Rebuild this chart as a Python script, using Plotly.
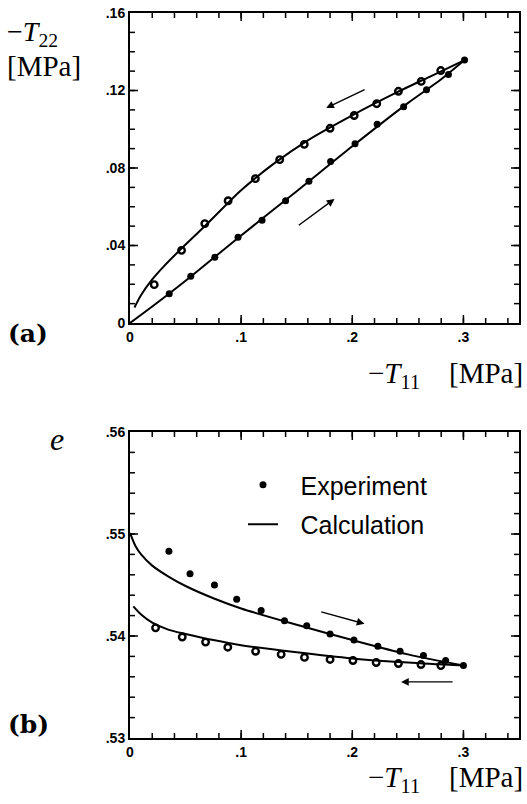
import plotly.graph_objects as go

# ---------- data: panel (a)  -T22 vs -T11 ----------
a_load_x = [0.0353, 0.0547, 0.0763, 0.0972, 0.1188, 0.140, 0.161, 0.1805, 0.2025, 0.2224, 0.2462, 0.2668, 0.2865, 0.301]
a_load_y = [0.0151, 0.0241, 0.0339, 0.0442, 0.0530, 0.0631, 0.0731, 0.0834, 0.0925, 0.1026, 0.1116, 0.1204, 0.1283, 0.1357]
a_unload_x = [0.2796, 0.262, 0.2415, 0.222, 0.2017, 0.180, 0.1568, 0.1347, 0.1128, 0.0883, 0.0673, 0.0464, 0.0218]
a_unload_y = [0.1303, 0.1247, 0.1196, 0.1132, 0.1071, 0.1005, 0.0922, 0.0843, 0.0745, 0.0631, 0.0513, 0.0375, 0.0198]
a_calc_load_x = [0, 0.02, 0.05, 0.1, 0.15, 0.2, 0.25, 0.28, 0.301]
a_calc_load_y = [0, 0.0085, 0.0218, 0.0452, 0.0680, 0.0912, 0.1135, 0.1258, 0.1357]
a_calc_unload_x = [0.004, 0.01, 0.02, 0.03, 0.05, 0.07, 0.1, 0.13, 0.16, 0.2, 0.24, 0.27, 0.301]
a_calc_unload_y = [0.008, 0.0145, 0.0225, 0.029, 0.0405, 0.0515, 0.0685, 0.0825, 0.0943, 0.1072, 0.1190, 0.1272, 0.1357]

# ---------- data: panel (b)  e vs -T11 ----------
b_load_x = [0.035, 0.054, 0.076, 0.096, 0.118, 0.139, 0.159, 0.180, 0.2015, 0.223, 0.243, 0.264, 0.284, 0.300]
b_load_y = [0.5483, 0.5461, 0.5450, 0.5436, 0.5425, 0.5415, 0.5410, 0.5402, 0.5396, 0.5390, 0.5385, 0.5381, 0.5376, 0.5371]
b_unload_x = [0.023, 0.047, 0.068, 0.088, 0.113, 0.136, 0.157, 0.180, 0.2006, 0.2215, 0.2415, 0.2618, 0.2797]
b_unload_y = [0.5408, 0.5399, 0.5394, 0.5389, 0.5385, 0.5382, 0.5379, 0.5377, 0.5376, 0.5374, 0.5373, 0.5372, 0.5371]
b_calc_load_x = [0, 0.005, 0.01, 0.02, 0.035, 0.05, 0.075, 0.1, 0.15, 0.2, 0.25, 0.3]
b_calc_load_y = [0.5501, 0.5488, 0.5480, 0.5469, 0.5458, 0.5449, 0.5437, 0.5427, 0.5411, 0.5396, 0.5382, 0.5371]
b_calc_unload_x = [0.003, 0.01, 0.02, 0.035, 0.05, 0.075, 0.1, 0.15, 0.2, 0.25, 0.3]
b_calc_unload_y = [0.5429, 0.5421, 0.5413, 0.5406, 0.5402, 0.5396, 0.5391, 0.5384, 0.5378, 0.5374, 0.5371]

# arrows: (tail_x, tail_y, head_x, head_y)
a_arrows = [(0.2124, 0.1208, 0.1765, 0.1110), (0.1505, 0.0499, 0.184, 0.064)]
b_arrows = [(0.1707, 0.5424, 0.211, 0.5412), (0.2916, 0.5355, 0.2439, 0.5355)]

x_ticks = [0, 0.1, 0.2, 0.3]
x_ticktext = ["0", ".1", ".2", ".3"]
a_yticks = [0, 0.04, 0.08, 0.12, 0.16]
a_yticktext = ["0", ".04", ".08", ".12", ".16"]
b_yticks = [0.53, 0.54, 0.55, 0.56]
b_yticktext = [".53", ".54", ".55", ".56"]

# minor tick positions
x_minor = [round(0.02 * i, 4) for i in range(1, 18)]
a_yminor = [round(0.01 * i, 4) for i in range(1, 16)]
b_yminor = [round(0.53 + 0.002 * i, 4) for i in range(1, 15)]

X_RANGE = [0, 0.35]
A_YRANGE = [0, 0.16]
B_YRANGE = [0.53, 0.56]

# ---------- layout geometry (pixels) ----------
W, H = 527, 804
ML, MR, MT, MB = 130, 8, 13, 66
PW, PH = W - ML - MR, H - MT - MB
TOP_BOTTOM_PX = 323
BOT_TOP_PX = 432
TOP_PANEL_PX = TOP_BOTTOM_PX - MT
BOT_PANEL_PX = H - MB - BOT_TOP_PX


def px(x):
    return (x - ML) / PW


def py(y):
    return (H - MB - y) / PH


fig = go.Figure()

mk_fill = dict(color="black", size=7)
mk_open = dict(color="black", size=6.5, symbol="circle-open", line=dict(width=2.4, color="black"))
ln = dict(color="black", width=2, shape="spline", smoothing=0.8)


def tick_trace(xref, yref, xrange, yrange, ypanel_px):
    """Inward tick marks on all four frame edges, built on the axes' own scales."""
    xs, ys = [], []
    dx = (xrange[1] - xrange[0]) / PW          # data units per pixel along x
    dy = (yrange[1] - yrange[0]) / ypanel_px   # data units per pixel along y
    for vals, L in ((x_minor, 5), (x_ticks[1:], 8)):
        for v in vals:
            xs += [v, v, None, v, v, None]
            ys += [yrange[0], yrange[0] + L * dy, None, yrange[1], yrange[1] - L * dy, None]
    yvals = (a_yminor, a_yticks[1:-1]) if yref == "y" else (b_yminor, b_yticks[1:-1])
    for vals, L in ((yvals[0], 5), (yvals[1], 8)):
        for v in vals:
            xs += [xrange[0], xrange[0] + L * dx, None, xrange[1], xrange[1] - L * dx, None]
            ys += [v, v, None, v, v, None]
    return go.Scatter(x=xs, y=ys, mode="lines", line=dict(color="black", width=1.5),
                      xaxis=xref, yaxis=yref, showlegend=False, hoverinfo="skip",
                      connectgaps=False)


# panel a
fig.add_trace(tick_trace("x", "y", X_RANGE, A_YRANGE, TOP_PANEL_PX))
fig.add_trace(go.Scatter(x=a_calc_load_x, y=a_calc_load_y, mode="lines", line=ln,
                         xaxis="x", yaxis="y", showlegend=False))
fig.add_trace(go.Scatter(x=a_calc_unload_x, y=a_calc_unload_y, mode="lines", line=ln,
                         xaxis="x", yaxis="y", showlegend=False))
fig.add_trace(go.Scatter(x=a_load_x, y=a_load_y, mode="markers", marker=mk_fill,
                         xaxis="x", yaxis="y", showlegend=False))
fig.add_trace(go.Scatter(x=a_unload_x, y=a_unload_y, mode="markers", marker=mk_open,
                         xaxis="x", yaxis="y", showlegend=False))

# panel b
fig.add_trace(tick_trace("x2", "y2", X_RANGE, B_YRANGE, BOT_PANEL_PX))
fig.add_trace(go.Scatter(x=b_load_x, y=b_load_y, mode="markers", marker=mk_fill,
                         xaxis="x2", yaxis="y2", name="\u2002\u2009Experiment", legendgroup="g1"))
fig.add_trace(go.Scatter(x=b_calc_load_x, y=b_calc_load_y, mode="lines", line=ln,
                         xaxis="x2", yaxis="y2", name="\u2002\u2009Calculation", legendgroup="g2"))
fig.add_trace(go.Scatter(x=b_calc_unload_x, y=b_calc_unload_y, mode="lines", line=ln,
                         xaxis="x2", yaxis="y2", showlegend=False))
fig.add_trace(go.Scatter(x=b_unload_x, y=b_unload_y, mode="markers", marker=mk_open,
                         xaxis="x2", yaxis="y2", showlegend=False))

tickfont = dict(family="Liberation Sans, Arial", size=14, color="black", weight="bold")


def axis_common(**kw):
    d = dict(showgrid=False, zeroline=False, showline=True, linecolor="black", linewidth=2,
             mirror=True, ticks="", tickfont=tickfont, fixedrange=True, tickmode="array")
    d.update(kw)
    return d


top_dom = [py(TOP_BOTTOM_PX), 1]
bot_dom = [0, py(BOT_TOP_PX)]

fig.update_layout(
    template="none",
    width=W, height=H,
    margin=dict(l=ML, r=MR, t=MT, b=MB),
    paper_bgcolor="white", plot_bgcolor="rgba(0,0,0,0)",
    xaxis=axis_common(domain=[0, 1], range=X_RANGE, tickvals=x_ticks, ticktext=x_ticktext, anchor="y"),
    yaxis=axis_common(domain=top_dom, range=A_YRANGE, tickvals=a_yticks, ticktext=a_yticktext, anchor="x"),
    xaxis2=axis_common(domain=[0, 1], range=X_RANGE, tickvals=x_ticks, ticktext=x_ticktext, anchor="y2"),
    yaxis2=axis_common(domain=bot_dom, range=B_YRANGE, tickvals=b_yticks, ticktext=b_yticktext, anchor="x2"),
    legend=dict(x=px(243), y=py(462), xanchor="left", yanchor="top", bgcolor="rgba(0,0,0,0)",
                font=dict(family="Liberation Sans, Arial", size=25, color="black"),
                tracegroupgap=4),
    showlegend=True,
)

serif = "Liberation Serif, Times New Roman, serif"
boldserif = "DejaVu Serif, serif"
ann = []


def label(text, xpix, ypix, size, family=serif, xanchor="left", weight="normal"):
    ann.append(dict(text=text, x=px(xpix), y=py(ypix), xref="paper", yref="paper",
                    xanchor=xanchor, yanchor="middle", showarrow=False,
                    font=dict(family=family, size=size, color="black", weight=weight)))


label("\u2212<i>T</i><sub>22</sub>", 5, 33, 28)
label("[MPa]", 5, 66, 29)
label("(a)", 6, 333, 25, family=boldserif, weight="bold")
label("\u2212<i>T</i><sub>11</sub>\u2003[MPa]", 525, 375, 29, xanchor="right")
label("<i>e</i>", 48, 439, 32)
label("(b)", 6, 724, 25, family=boldserif, weight="bold")
label("\u2212<i>T</i><sub>11</sub>\u2003[MPa]", 525, 779, 29, xanchor="right")

for (tx, ty, hx, hy) in a_arrows:
    ann.append(dict(x=hx, y=hy, ax=tx, ay=ty, xref="x", yref="y", axref="x", ayref="y",
                    showarrow=True, arrowhead=2, arrowsize=1.1, arrowwidth=1.4, arrowcolor="black", text=""))
for (tx, ty, hx, hy) in b_arrows:
    ann.append(dict(x=hx, y=hy, ax=tx, ay=ty, xref="x2", yref="y2", axref="x2", ayref="y2",
                    showarrow=True, arrowhead=2, arrowsize=1.1, arrowwidth=1.4, arrowcolor="black", text=""))

fig.update_layout(annotations=ann)

fig.write_html("out.html", config={"displayModeBar": False})
